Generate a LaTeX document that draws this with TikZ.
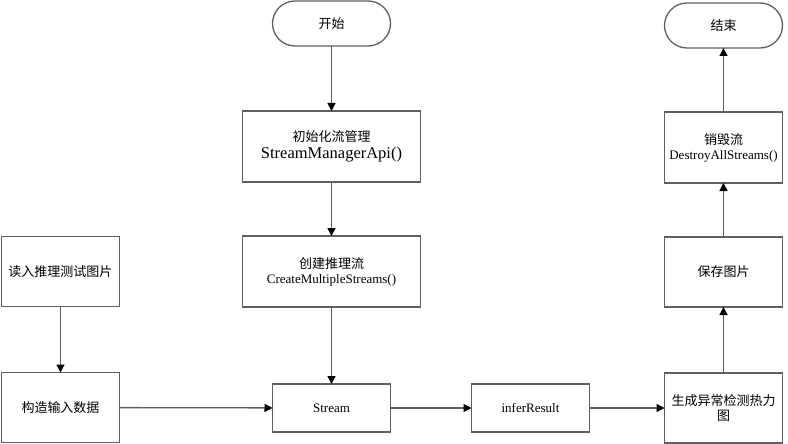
\documentclass[tikz,border=0pt]{standalone}
\usepackage{fontspec}
\setmainfont{Liberation Serif}
\newfontfamily\cjk{Noto Sans CJK SC}
\usetikzlibrary{positioning}
\usetikzlibrary{arrows.meta}
\definecolor{linegray}{RGB}{95,95,95}
\tikzset{
    x=1pt, y=-1pt,
    every node/.style={ % Sets the properties for each box
        draw=linegray,
        line width=1.3pt,
        inner sep=0pt,
        outer sep=0pt,
        align=center,
        font=\fontsize{13pt}{16pt}\selectfont
    },
    bigbox/.style={minimum width=178pt, minimum height=71pt},
    smallbox/.style={minimum width=118pt, minimum height=48pt},
    sidebox/.style={minimum width=118pt, minimum height=70pt},
    terminal/.style={minimum width=118pt, minimum height=45pt, rounded corners=22.5pt},
    every edge/.style={ % Sets the properties for each connector
        draw=linegray,
        line width=1.3pt,
        -{Triangle[length=8pt,width=8pt,color=black]}
    }
}
\begin{document}
\begin{tikzpicture}
    \useasboundingbox (0,0) rectangle (788,444);
    % middle column
    \node[terminal] (start) at (331.5,23.5) {\cjk 开始};
    \node[bigbox, below=65pt of start] (initmgr) {{\cjk 初始化流管理}\\[1pt]{\fontsize{16.5pt}{19pt}\selectfont StreamManagerApi()}};
    \node[bigbox, below=54pt of initmgr] (create) {{\cjk 创建推理流}\\[-1pt]CreateMultipleStreams()};
    \node[smallbox, below=77pt of create] (stream) {Stream};
    % left column
    \node[sidebox, left=123pt of create] (readimg) {\cjk 读入推理测试图片};
    \node[sidebox, below=66pt of readimg] (buildin) {\cjk 构造输入数据};
    % bottom row and right column
    \node[smallbox, right=81pt of stream] (infer) {inferResult};
    \node[sidebox, right=75pt of infer] (heatmap) {\cjk 生成异常检测热力\\[-1pt]\cjk 图};
    \node[sidebox, above=66pt of heatmap] (saveimg) {\cjk 保存图片};
    \node[bigbox, minimum width=118pt, above=54pt of saveimg] (destroy) {{\cjk 销毁流}\\[-1pt]DestroyAllStreams()};
    \node[terminal, above=64pt of destroy] (finish) {\cjk 结束};

    \draw (start) edge (initmgr);
    \draw (initmgr) edge (create);
    \draw (create) edge (stream);
    \draw (readimg) edge (buildin);
    \draw (buildin) edge (stream);
    \draw (stream) edge (infer);
    \draw (infer) edge (heatmap);
    \draw (heatmap) edge (saveimg);
    \draw (saveimg) edge (destroy);
    \draw (destroy) edge (finish);
\end{tikzpicture}
\end{document}
